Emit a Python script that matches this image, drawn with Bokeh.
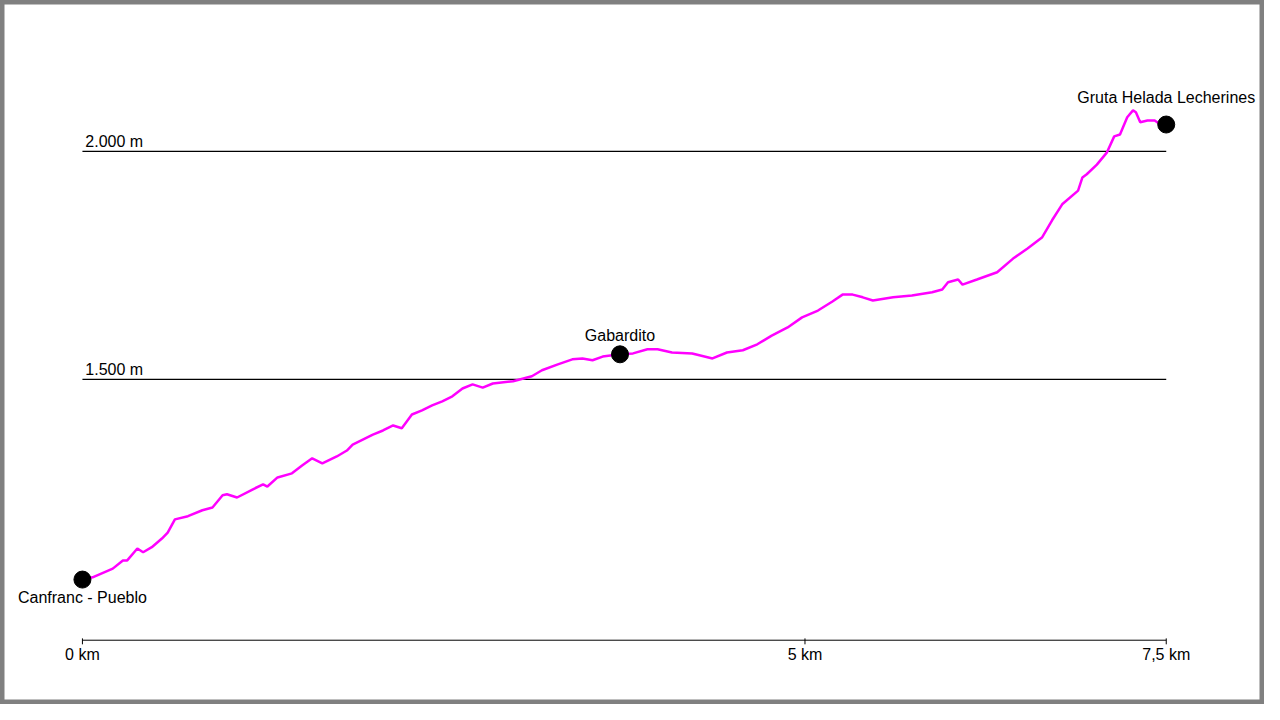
from bokeh.embed import file_html
from bokeh.resources import INLINE
from bokeh.plotting import figure
from bokeh.models import Range1d
from bokeh.core.properties import value

# elevation profile: distance (km) and altitude (m)
dist_km = [0, 0.07, 0.21, 0.28, 0.31, 0.38, 0.42, 0.48, 0.55, 0.59, 0.64, 0.73, 0.83, 0.90,
           0.97, 1.00, 1.07, 1.18, 1.25, 1.28, 1.35, 1.45, 1.52, 1.59, 1.66, 1.76, 1.83, 1.87,
           1.94, 2.01, 2.08, 2.15, 2.21, 2.28, 2.35, 2.42, 2.49, 2.56, 2.63, 2.70, 2.77, 2.84,
           2.98, 3.11, 3.18, 3.29, 3.39, 3.46, 3.53, 3.60, 3.72, 3.81, 3.91, 3.98, 4.08, 4.22,
           4.36, 4.46, 4.57, 4.67, 4.77, 4.88, 4.98, 5.09, 5.19, 5.26, 5.33, 5.40, 5.47, 5.61,
           5.74, 5.88, 5.95, 5.99, 6.06, 6.09, 6.19, 6.33, 6.44, 6.54, 6.64, 6.71, 6.78, 6.89,
           6.92, 6.95, 7.02, 7.09, 7.14, 7.18, 7.23, 7.27, 7.29, 7.32, 7.37, 7.42, 7.46, 7.50]
alt_m = [1061, 1066, 1085, 1103, 1103, 1129, 1121, 1132, 1151, 1164, 1193, 1200, 1213, 1219,
         1246, 1248, 1241, 1259, 1270, 1265, 1285, 1294, 1311, 1327, 1316, 1331, 1344, 1357,
         1368, 1379, 1388, 1399, 1393, 1423, 1432, 1443, 1452, 1463, 1480, 1489, 1482, 1491,
         1496, 1507, 1520, 1533, 1544, 1546, 1542, 1550, 1555, 1557, 1566, 1566, 1559, 1557,
         1546, 1559, 1564, 1577, 1596, 1614, 1636, 1651, 1671, 1686, 1686, 1680, 1673, 1680,
         1684, 1691, 1697, 1713, 1719, 1708, 1719, 1735, 1765, 1787, 1811, 1849, 1884, 1914,
         1943, 1950, 1971, 1998, 2033, 2037, 2075, 2090, 2086, 2064, 2068, 2068, 2059, 2059]

# waypoints
wp_names = ["Canfranc - Pueblo", "Gabardito", "Gruta Helada Lecherines"]
wp_km = [0, 3.72, 7.50]
wp_m = [1061, 1555, 2059]
wp_label_dy = [-40, 42, 60]

# reference lines and x ticks
ref_levels = [1500, 2000]
ref_labels = ["1.500 m", "2.000 m"]
tick_km = [0, 5, 7.5]
tick_labels = ["0 km", "5 km", "7,5 km"]
base_m = 928

FONT = value("Liberation Sans")

p = figure(width=1264, height=704, output_backend="svg", toolbar_location=None,
           x_range=Range1d(-0.567, 8.18), y_range=Range1d(787, 2331),
           min_border=0, background_fill_color="white", border_fill_color="white")
p.axis.visible = False
p.grid.visible = False
p.outline_line_color = "#808080"
p.outline_line_width = 8

# horizontal reference lines
for lvl, lab in zip(ref_levels, ref_labels):
    p.segment(x0=0, y0=lvl, x1=7.5, y1=lvl, line_color="black", line_width=1.2)
    p.text(x=[0.02], y=[lvl + 3], text=[lab], text_font=FONT, text_font_size="16px",
           text_baseline="bottom", text_align="left", text_color="black")

# baseline axis
p.segment(x0=0, y0=base_m, x1=7.5, y1=base_m, line_color="black", line_width=1)
p.segment(x0=tick_km, y0=[base_m + 4] * 3, x1=tick_km, y1=[base_m - 9] * 3,
          line_color="black", line_width=1)
p.text(x=tick_km, y=[base_m - 12] * 3, text=tick_labels, text_font=FONT,
       text_font_size="16px", text_align="center", text_baseline="top", text_color="black")

# profile
p.line(dist_km, alt_m, line_color="#ff00ff", line_width=2.5)

# waypoints
p.scatter(wp_km, wp_m, size=17, color="black")
for name, x, y, dy in zip(wp_names, wp_km, wp_m, wp_label_dy):
    p.text(x=[x], y=[y + dy], text=[name], text_font=FONT, text_font_size="16px",
           text_align="center", text_baseline="middle", text_color="black")

open("out.html", "w").write(file_html(p, INLINE))
